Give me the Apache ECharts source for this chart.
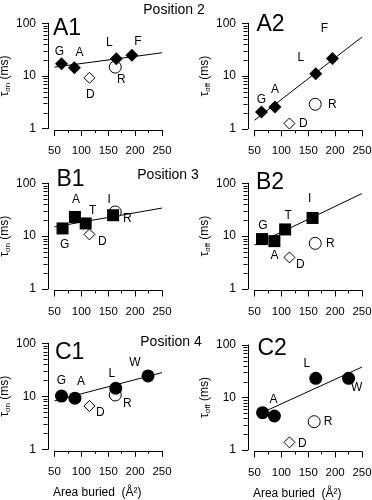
<!DOCTYPE html>
<html><head><meta charset="utf-8">
<script src="https://cdn.jsdelivr.net/npm/echarts@6/dist/echarts.min.js"></script>
<style>html,body{margin:0;padding:0;background:#fff}#c{width:372px;height:500px}</style>
</head><body><div id="c"></div>
<script>
// ---------------- data ----------------
const xTickVals = [50, 100, 150, 200, 250];
const yMinorTickVals = [2,3,4,5,6,7,8,9,20,30,40,50,60,70,80,90];

const A1_names = ['G','A','L','F'], A1_x = [63,87,165,194], A1_y = [17,14.3,21.3,24.6];
const A1_open_names = ['D','R'], A1_open_x = [115,163], A1_open_y = [9.2,14.7];
const A1_fit_x = [50,250], A1_fit_y = [14.7,27.5];

const A2_names = ['G','A','L','F'], A2_x = [63,88,164,195], A2_y = [2.08,2.6,11.1,21.5];
const A2_open_names = ['D','R'], A2_open_x = [115,163], A2_open_y = [1.26,2.92];
const A2_fit_x = [50,250], A2_fit_y = [1.45,55];

const B1_names = ['G','A','T','I'], B1_x = [65,88,108,159], B1_y = [14,23.1,17.4,24.9];
const B1_open_names = ['D','R'], B1_open_x = [115,163], B1_open_y = [10.8,28.7];
const B1_fit_x = [50,250], B1_fit_y = [15,34];

const B2_names = ['G','A','T','I'], B2_x = [64,87,107,158], B2_y = [8.8,8.05,13.4,22.1];
const B2_open_names = ['D','R'], B2_open_x = [115,163], B2_open_y = [3.96,7.3];
const B2_fit_x = [50,250], B2_fit_y = [6.8,64];

const C1_names = ['G','A','L','W'], C1_x = [63,88,164,224], C1_y = [10.1,9.2,14.2,24.2];
const C1_open_names = ['D','R'], C1_open_x = [115,163], C1_open_y = [6.56,10.6];
const C1_fit_x = [50,250], C1_fit_y = [8.2,28];

const C2_names = ['G','A','L','W'], C2_x = [65,87,164,225], C2_y = [5.13,4.44,23.2,23.2];
const C2_open_names = ['D','R'], C2_open_x = [115,161], C2_open_y = [1.4,3.46];
const C2_fit_x = [65,250], C2_fit_y = [5.2,38];

const panelTitles = ['A1','A2','B1','B2','C1','C2'];
const positionTitles = ['Position 2','Position 3','Position 4'];
const yNameSub = ['on','off','on','off','on','off'];
const xName = 'Area buried  (Å²)';

// ---------------- style / layout ----------------
const FONT = 'Liberation Sans, Arial, sans-serif';
const panels = [
  {n:A1_names,x:A1_x,y:A1_y,on:A1_open_names,ox:A1_open_x,oy:A1_open_y,fx:A1_fit_x,fy:A1_fit_y},
  {n:A2_names,x:A2_x,y:A2_y,on:A2_open_names,ox:A2_open_x,oy:A2_open_y,fx:A2_fit_x,fy:A2_fit_y},
  {n:B1_names,x:B1_x,y:B1_y,on:B1_open_names,ox:B1_open_x,oy:B1_open_y,fx:B1_fit_x,fy:B1_fit_y},
  {n:B2_names,x:B2_x,y:B2_y,on:B2_open_names,ox:B2_open_x,oy:B2_open_y,fx:B2_fit_x,fy:B2_fit_y},
  {n:C1_names,x:C1_x,y:C1_y,on:C1_open_names,ox:C1_open_x,oy:C1_open_y,fx:C1_fit_x,fy:C1_fit_y},
  {n:C2_names,x:C2_x,y:C2_y,on:C2_open_names,ox:C2_open_x,oy:C2_open_y,fx:C2_fit_x,fy:C2_fit_y}
];
const layout = [
  {left:54.5, top:23.3, h:105.2, yOff:6.5, sym:'diamond', size:13, tx:53, ty:28.5, nameGap:32},
  {left:254.5, top:23.3, h:105.5, yOff:6.5, sym:'diamond', size:13, tx:256.5, ty:25, nameGap:32},
  {left:54.5, top:183.3, h:105.7, yOff:6.5, sym:'rect', size:12, tx:56.5, ty:179.5, nameGap:32},
  {left:254.5, top:183.3, h:105.7, yOff:6.5, sym:'rect', size:12, tx:256, ty:183, nameGap:32},
  {left:54.5, top:343.3, h:106, yOff:6.5, sym:'circle', size:13, tx:55, ty:353, nameGap:32},
  {left:254.5, top:345, h:105, yOff:6.5, sym:'circle', size:13, tx:257.5, ty:349, nameGap:32}
];
const labelOffsets = [
  {G:[-2,-12],A:[5,-15],L:[-7,-16],F:[6,-14],D:[1,17],R:[6,13]},
  {G:[0,-12],A:[0,-17],L:[-15,-16],F:[-8,-30],D:[14,0],R:[17,0]},
  {G:[2,16],A:[1,-17],T:[7,-13],I:[-4,-16],D:[13,7],R:[12,7]},
  {G:[1,-13],A:[0,15],T:[3,-14],I:[-3,-19],D:[11,7],R:[15,0]},
  {G:[0,-15],A:[6,-17],L:[-4,-15],W:[-13,-13],D:[11,7],R:[12,9]},
  {G:null,A:[-1,-16],L:[-9,-15],W:[8,9],D:[13,1],R:[14,0]}
];
const positionTitlePos = [[174,10],[168,175],[171,342]];
const openSym = {D:'diamond', R:'circle'};
const openSize = {D:11, R:12};

const grids = [], xAxes = [], yAxes = [], series = [], graphics = [];
layout.forEach((L, i) => {
  grids.push({left:L.left, top:L.top, width:107.5, height:L.h, containLabel:false, outerBoundsMode:'none'});
  xAxes.push({
    type:'value', gridIndex:i, min:50, max:250, interval:50, offset:1.5,
    axisLine:{show:true, onZero:false, lineStyle:{color:'#000', width:1}},
    axisTick:{show:true, length:6, lineStyle:{color:'#000', width:1}},
    minorTick:{show:true, splitNumber:2, length:3, lineStyle:{color:'#000', width:1}},
    axisLabel:{color:'#000', fontSize:11.5, fontFamily:FONT, margin:15, showMinLabel:true, showMaxLabel:true},
    splitLine:{show:false}, minorSplitLine:{show:false},
    name: i >= 4 ? xName : '', nameLocation:'middle', nameGap:36,
    nameTextStyle:{color:'#000', fontSize:12, fontFamily:FONT, padding:[0,22,0,0]}
  });
  yAxes.push({
    type:'log', logBase:10, gridIndex:i, min:1, max:100, offset:L.yOff,
    axisLine:{show:true, lineStyle:{color:'#000', width:1}},
    axisTick:{show:true, length:6, lineStyle:{color:'#000', width:1}},
    axisLabel:{color:'#000', fontSize:12, fontFamily:FONT, margin:12},
    splitLine:{show:false},
    name:'{a|τ}{b|' + yNameSub[i] + '}{a| (ms)}', nameLocation:'middle', nameGap:L.nameGap,
    nameTextStyle:{color:'#000', fontFamily:FONT, rich:{
      a:{fontSize:12, fontFamily:FONT, color:'#000', lineHeight:14},
      b:{fontSize:8, fontFamily:FONT, color:'#000', lineHeight:14, verticalAlign:'bottom'}
    }}
  });
  const P = panels[i], off = labelOffsets[i];
  const mkLabel = (nm) => off[nm] ? {show:true, position:'inside', offset:off[nm], formatter:nm,
      color:'#000', fontSize:12, fontFamily:FONT} : {show:false};
  // fit line
  series.push({type:'line', xAxisIndex:i, yAxisIndex:i, z:1, symbol:'none', silent:true,
    data:P.fx.map((v,k)=>[v, P.fy[k]]), lineStyle:{color:'#000', width:1}});
  // open markers
  series.push({type:'scatter', xAxisIndex:i, yAxisIndex:i, z:2, silent:true,
    data:P.on.map((nm,k)=>({name:nm, value:[P.ox[k], P.oy[k]], symbol:openSym[nm], symbolSize:openSize[nm],
      label:mkLabel(nm)})),
    itemStyle:{color:'#fff', borderColor:'#000', borderWidth:1, opacity:1}});
  // filled markers
  series.push({type:'scatter', xAxisIndex:i, yAxisIndex:i, z:3, silent:true,
    symbol:L.sym, symbolSize:L.size,
    data:P.n.map((nm,k)=>({name:nm, value:[P.x[k], P.y[k]], label:mkLabel(nm)})),
    itemStyle:{color:'#000', opacity:1}});
  // minor log ticks on y axis
  const yo = L.yOff;
  series.push({type:'custom', xAxisIndex:i, yAxisIndex:i, z:4, silent:true, clip:false,
    data:yMinorTickVals.map(v=>[50, v]),
    renderItem:(params, api) => {
      const p = api.coord([api.value(0), api.value(1)]);
      const x0 = Math.round(p[0] - yo) - 0.5, yy = Math.round(p[1]) + 0.5;
      return {type:'line', shape:{x1:x0, y1:yy, x2:x0 - 4, y2:yy}, style:{stroke:'#000', lineWidth:1}};
    }});
  graphics.push({type:'text', x:L.tx, y:L.ty, silent:true,
    style:{text:panelTitles[i], fontSize:23, fontFamily:FONT, fill:'#000', align:'left', verticalAlign:'middle'}});
});
positionTitles.forEach((t, k) => {
  graphics.push({type:'text', x:positionTitlePos[k][0], y:positionTitlePos[k][1], silent:true,
    style:{text:t, fontSize:14, fontFamily:FONT, fill:'#000', align:'center', verticalAlign:'middle'}});
});

const chart = echarts.init(document.getElementById('c'), null, {renderer:'canvas'});
chart.setOption({
  animation:false, backgroundColor:'#fff',
  grid:grids, xAxis:xAxes, yAxis:yAxes, series:series, graphic:graphics
});
</script></body></html>
